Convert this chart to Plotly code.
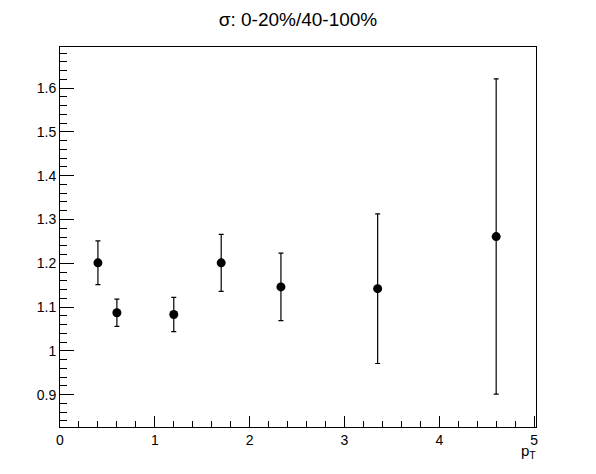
import plotly.graph_objects as go

pt = [0.4, 0.6, 1.2, 1.7, 2.33, 3.35, 4.6]
ratio = [1.201, 1.087, 1.083, 1.201, 1.146, 1.142, 1.261]
err = [0.050, 0.031, 0.039, 0.065, 0.077, 0.171, 0.360]

y_tickvals = [0.9, 1.0, 1.1, 1.2, 1.3, 1.4, 1.5, 1.6]
y_ticktext = ["0.9", "1", "1.1", "1.2", "1.3", "1.4", "1.5", "1.6"]
x_tickvals = [0, 1, 2, 3, 4, 5]
x_ticktext = ["0", "1", "2", "3", "4", "5"]

FONT = "Liberation Sans, Arial, Helvetica, sans-serif"

fig = go.Figure()
fig.add_trace(go.Scatter(
    x=pt, y=ratio, mode="markers",
    marker=dict(color="black", size=9, symbol="circle"),
    error_y=dict(type="data", array=err, visible=True, color="black",
                 thickness=1.2, width=2.5),
    showlegend=False,
))

fig.update_layout(
    width=596, height=474,
    margin=dict(l=60, r=60, t=47, b=47),
    plot_bgcolor="white", paper_bgcolor="white",
    font=dict(family=FONT, color="black", size=14),
    title=dict(text="σ: 0-20%/40-100%", x=0.5, xanchor="center",
               y=1 - 19 / 474, yanchor="middle",
               font=dict(family=FONT, size=19, color="black")),
    xaxis=dict(range=[0, 5.02], showgrid=False, zeroline=False,
               showline=True, linecolor="black", linewidth=1, mirror=True,
               ticks="inside", ticklen=11, tickcolor="black", tickwidth=1,
               tickvals=x_tickvals, ticktext=x_ticktext,
               minor=dict(ticks="inside", ticklen=6, dtick=0.2, tick0=0,
                          tickcolor="black", showgrid=False),
               tickfont=dict(family=FONT, size=14)),
    yaxis=dict(range=[0.826, 1.694], showgrid=False, zeroline=False,
               showline=True, linecolor="black", linewidth=1, mirror=True,
               ticks="inside", ticklen=14, tickcolor="black", tickwidth=1,
               tickvals=y_tickvals, ticktext=y_ticktext,
               minor=dict(ticks="inside", ticklen=7, dtick=0.02, tick0=0.8,
                          tickcolor="black", showgrid=False),
               tickfont=dict(family=FONT, size=14)),
)

fig.add_annotation(text="p<sub>T</sub>", xref="paper", yref="paper",
                   x=1.0, y=-0.035, xanchor="right", yanchor="top", xshift=2,
                   showarrow=False, font=dict(family=FONT, size=15, color="black"))

fig.write_html("out.html", config={"displayModeBar": False},
               post_script="document.body.style.margin='0';document.body.style.overflow='hidden';")
